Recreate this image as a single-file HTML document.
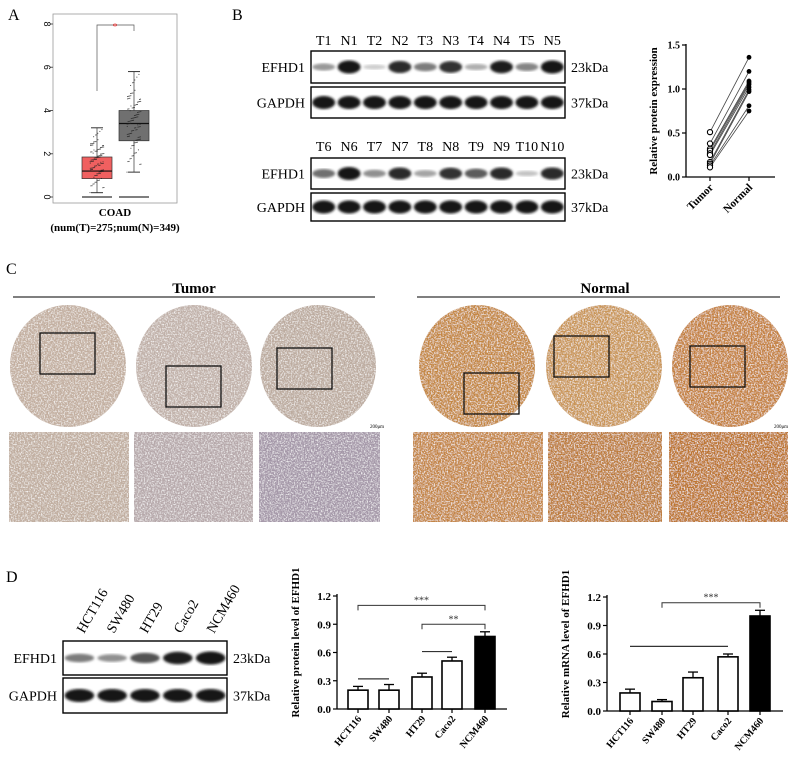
<!DOCTYPE html>
<html><head><meta charset="utf-8"><style>
html,body{margin:0;padding:0;background:#fff;}
svg{display:block;font-family:"Liberation Serif",serif;}
</style></head><body>
<svg id="fig" width="792" height="765" viewBox="0 0 792 765" xmlns="http://www.w3.org/2000/svg">
<defs>
<filter id="tex" x="0" y="0" width="100%" height="100%">
<feTurbulence type="fractalNoise" baseFrequency="0.7" numOctaves="2" seed="3" result="t"/>
<feColorMatrix in="t" type="matrix" values="0 0 0 0 1  0 0 0 0 1  0 0 0 0 1  2.2 0 0 0 -0.95" result="w"/>
<feComposite in="w" in2="SourceGraphic" operator="in" result="wi"/>
<feMerge><feMergeNode in="SourceGraphic"/><feMergeNode in="wi"/></feMerge>
</filter>
<filter id="blur1"><feGaussianBlur stdDeviation="1.2"/></filter>
</defs>
<text x="8" y="20" font-size="16">A</text>
<text x="232" y="20" font-size="16">B</text>
<text x="6" y="274" font-size="16">C</text>
<text x="6" y="582" font-size="16">D</text>
<g id="panelA"></g>
<g id="panelB"></g>
<g id="panelBchart"></g>
<g id="panelC"></g>
<g id="panelD"></g>
<g id="panelD1"></g>
<g id="panelD2"></g>
</svg>
<script>
const boxGroups = ['Tumor','Normal'];
const boxQ1 = [0.85, 2.6];
const boxMed = [1.2, 3.4];
const boxQ3 = [1.85, 4.0];
const boxLow = [0.2, 1.15];
const boxHigh = [3.2, 5.8];
const boxColors = ['#f06060','#707070'];
const aTicks = [0,2,4,6,8];
const pairTumor = [0.51,0.38,0.32,0.30,0.27,0.25,0.17,0.15,0.13,0.11];
const pairNormal = [1.36,1.20,1.09,1.07,1.05,1.02,0.99,0.97,0.81,0.75];
const bTicks = [0,0.5,1.0,1.5];
const cellLines = ['HCT116','SW480','HT29','Caco2','NCM460'];
const protVals = [0.20,0.20,0.34,0.51,0.77];
const protErr = [0.04,0.06,0.04,0.04,0.05];
const mrnaVals = [0.19,0.10,0.35,0.57,1.00];
const mrnaErr = [0.04,0.02,0.06,0.03,0.06];
const dTicks = [0.0,0.3,0.6,0.9,1.2];
const blotLanes1 = ['T1','N1','T2','N2','T3','N3','T4','N4','T5','N5'];
const blotLanes2 = ['T6','N6','T7','N7','T8','N8','T9','N9','T10','N10'];
const efhd1Int1 = [0.35,1,0.1,0.9,0.5,0.85,0.25,0.95,0.45,1];
const efhd1Int2 = [0.55,1,0.4,0.9,0.3,0.85,0.65,0.9,0.15,0.9];
const efhdD = [0.5,0.4,0.7,0.95,1];

const NS='http://www.w3.org/2000/svg';
function mk(parent, tag, attrs, text){
  const e=document.createElementNS(NS,tag);
  for(const k in attrs) e.setAttribute(k,attrs[k]);
  if(text!==undefined) e.textContent=text;
  parent.appendChild(e); return e;
}
const A=document.getElementById('panelA');
const ay=v=>197-(v/8)*173;
let e;
e=mk(A,'rect',{x:53,y:14,width:124,height:189,fill:'none',stroke:'#999','stroke-width':0.8});


aTicks.forEach(t=>{
  mk(A,'line',{x1:50,x2:53,y1:ay(t),y2:ay(t),stroke:'#555'});
  e=mk(A,'text',{x:0,y:0,'font-size':9,'text-anchor':'middle',transform:`translate(44,${ay(t)}) rotate(90)`,'font-family':'Liberation Sans'},t);
  
  
});
const ax=[97,134];
boxGroups.forEach((g,i)=>{
  const cx=ax[i];
  mk(A,'line',{x1:cx-15,x2:cx+15,y1:ay(0),y2:ay(0),stroke:'#333','stroke-width':1.2});
  mk(A,'line',{x1:cx,x2:cx,y1:ay(boxLow[i]),y2:ay(boxHigh[i]),stroke:'#333','stroke-width':0.7});
  mk(A,'line',{x1:cx-6,x2:cx+6,y1:ay(boxLow[i]),y2:ay(boxLow[i]),stroke:'#333'});
  mk(A,'line',{x1:cx-6,x2:cx+6,y1:ay(boxHigh[i]),y2:ay(boxHigh[i]),stroke:'#333'});
  e=mk(A,'rect',{x:cx-15,y:ay(boxQ3[i]),width:30,height:ay(boxQ1[i])-ay(boxQ3[i]),fill:boxColors[i],stroke:'#333','stroke-width':0.7});
  
  
  mk(A,'line',{x1:cx-15,x2:cx+15,y1:ay(boxMed[i]),y2:ay(boxMed[i]),stroke:'#111','stroke-width':1.2});
  const lo=boxLow[i], span=boxHigh[i]-boxLow[i];
  for(let k=0;k<110;k++){
    const f=(k*0.6180339)%1, h=(k*0.7548776)%1;
    const u=(f+((k*0.5698)%1))/2;
    const v=lo+span*u;
    mk(A,'circle',{cx:cx-7+h*14,cy:ay(v),r:0.5,fill:'#222'});
  }
});
mk(A,'path',{d:`M97 ${ay(4.9)} V25 H134 V31`,fill:'none',stroke:'#555','stroke-width':0.7});
mk(A,'text',{x:115,y:30,'font-size':10,fill:'#e33','text-anchor':'middle'},'*');
e=mk(A,'text',{x:115,y:216,'font-size':11,'font-weight':'bold','text-anchor':'middle'},'COAD');


e=mk(A,'text',{x:115,y:231,'font-size':11,'font-weight':'bold','text-anchor':'middle'},'(num(T)=275;num(N)=349)');



const B=document.getElementById('panelB');
function blot(g,x0,y0,w,h,label,ints,gap,kda,name){
  e=mk(g,'rect',{x:x0,y:y0,width:w,height:h,fill:'#fff',stroke:'#000','stroke-width':1.4});
  
  
  const n=ints.length, sp=w/n;
  ints.forEach((v,i)=>{
    const c=Math.round(225-205*v);
    mk(g,'ellipse',{cx:x0+sp*(i+0.5),cy:y0+h/2,rx:sp*0.45,ry:2+4.5*v,fill:`rgb(${c},${c},${c})`,filter:'url(#blur1)'});
  });
  mk(g,'text',{x:x0-6,y:y0+h/2+5,'font-size':gap,'text-anchor':'end'},label);
  mk(g,'text',{x:x0+w+6,y:y0+h/2+5,'font-size':gap},kda);
}
function laneLabels(g,x0,w,y,labels){
  const sp=w/labels.length;
  labels.forEach((l,i)=>{
    e=mk(g,'text',{x:x0+sp*(i+0.5),y:y,'font-size':14,'text-anchor':'middle'},l);
    
    
  });
}
laneLabels(B,311,254,45,blotLanes1);
blot(B,311,51,254,32,'EFHD1',efhd1Int1,14,'23kDa','efhd1-blot-1');
blot(B,311,87,254,31,'GAPDH',new Array(10).fill(1),14,'37kDa','gapdh-blot-1');
laneLabels(B,311,254,151,blotLanes2);
blot(B,311,158,254,31,'EFHD1',efhd1Int2,14,'23kDa','efhd1-blot-2');
blot(B,311,193,254,28,'GAPDH',new Array(10).fill(1),14,'37kDa','gapdh-blot-2');

const BC=document.getElementById('panelBchart');
const by=v=>177-(v/1.5)*132;
mk(BC,'line',{x1:686,x2:686,y1:44,y2:177,stroke:'#000','stroke-width':1.3});
mk(BC,'line',{x1:686,x2:775,y1:177,y2:177,stroke:'#000','stroke-width':1.3});
bTicks.forEach(t=>{
  mk(BC,'line',{x1:682,x2:686,y1:by(t),y2:by(t),stroke:'#000','stroke-width':1.2});
  e=mk(BC,'text',{x:680,y:by(t)+3.5,'font-size':10,'font-weight':'bold','text-anchor':'end'},t.toFixed(1));
  
  
});
e=mk(BC,'text',{x:0,y:0,'font-size':11,'font-weight':'bold','text-anchor':'middle',transform:'translate(657,111) rotate(-90)'},'Relative protein expression');


const bx=[710,749];
['Tumor','Normal'].forEach((l,i)=>{
  mk(BC,'line',{x1:bx[i],x2:bx[i],y1:177,y2:181,stroke:'#000','stroke-width':1.2});
  e=mk(BC,'text',{x:0,y:0,'font-size':11,'font-weight':'bold','text-anchor':'end',transform:`translate(${bx[i]+4},${188}) rotate(-45)`},l);
  
  
});
pairTumor.forEach((v,i)=>{
  mk(BC,'line',{x1:bx[0],y1:by(v),x2:bx[1],y2:by(pairNormal[i]),stroke:'#444','stroke-width':0.8});
});
pairTumor.forEach(v=>{
  e=mk(BC,'circle',{cx:bx[0],cy:by(v),r:2.6,fill:'#fff',stroke:'#000','stroke-width':1.1});
  
  
});
pairNormal.forEach(v=>{
  e=mk(BC,'circle',{cx:bx[1],cy:by(v),r:2.4,fill:'#000'});
  
  
});

const C=document.getElementById('panelC');
mk(C,'text',{x:194,y:293,'font-size':15,'font-weight':'bold','text-anchor':'middle'},'Tumor');
mk(C,'line',{x1:13,x2:375,y1:297,y2:297,stroke:'#333','stroke-width':1.2});
mk(C,'text',{x:605,y:293,'font-size':15,'font-weight':'bold','text-anchor':'middle'},'Normal');
mk(C,'line',{x1:417,x2:780,y1:297,y2:297,stroke:'#333','stroke-width':1.2});
const circCols=['#c2ae9f','#c0b0a8','#bcab9f','#c48743','#c99556','#c4803e'];
const circX=[68,194,318,477,604,730];
const circBox=[[40,333],[166,366],[277,348],[464,373],[554,336],[690,346]];
const rects=[[9,129],[134,253],[259,380],[413,543],[548,662],[669,788]];
const rectCols=['#c0ad9f','#b6a8aa','#a497a8','#c48544','#bd7b3a','#bd752f'];
circX.forEach((cx,i)=>{
  e=mk(C,'ellipse',{cx:cx,cy:366,rx:58,ry:61,fill:circCols[i],filter:'url(#tex)'});
  
  
  mk(C,'rect',{x:circBox[i][0],y:circBox[i][1],width:55,height:41,fill:'none',stroke:'#111','stroke-width':1.3});
  const r=rects[i];
  e=mk(C,'rect',{x:r[0],y:432,width:r[1]-r[0],height:90,fill:rectCols[i],filter:'url(#tex)'});
  
  
});
mk(C,'text',{x:370,y:428,'font-size':5},'200μm');
mk(C,'text',{x:774,y:428,'font-size':5},'200μm');

const D=document.getElementById('panelD');
const dlx=[80,110,143,177,210];
cellLines.forEach((l,i)=>{
  e=mk(D,'text',{x:0,y:0,'font-size':14,transform:`translate(${dlx[i]+4},${634}) rotate(-60)`},l);
  
  
});
blot(D,63,641,164,34,'EFHD1',efhdD,14,'23kDa','efhd1-blot-d');
blot(D,63,678,164,35,'GAPDH',[1,1,1,1,1],14,'37kDa','gapdh-blot-d');

function barChart(g,vals,errs,x0,x1,y0,yTop,centers,title,brackets,lines){
  const y=v=>y0-(v/1.2)*(y0-yTop);
  mk(g,'line',{x1:x0,x2:x0,y1:yTop-2,y2:y0,stroke:'#000','stroke-width':1.3});
  mk(g,'line',{x1:x0,x2:x1,y1:y0,y2:y0,stroke:'#000','stroke-width':1.3});
  dTicks.forEach(t=>{
    mk(g,'line',{x1:x0-4,x2:x0,y1:y(t),y2:y(t),stroke:'#000','stroke-width':1.2});
    e=mk(g,'text',{x:x0-6,y:y(t)+4,'font-size':11,'font-weight':'bold','text-anchor':'end'},t.toFixed(1));
    
    
  });
  e=mk(g,'text',{x:0,y:0,'font-size':11,'font-weight':'bold','text-anchor':'middle',transform:`translate(${x0-38},${(y0+yTop)/2-10}) rotate(-90)`},title);
  
  
  vals.forEach((v,i)=>{
    const cx=centers[i];
    mk(g,'line',{x1:cx,x2:cx,y1:y(v),y2:y(v+errs[i]),stroke:'#000','stroke-width':1.3});
    mk(g,'line',{x1:cx-5,x2:cx+5,y1:y(v+errs[i]),y2:y(v+errs[i]),stroke:'#000','stroke-width':1.3});
    e=mk(g,'rect',{x:cx-10,y:y(v),width:20,height:y0-y(v),fill:i==4?'#000':'#fff',stroke:'#000','stroke-width':1.6});
    
    
    mk(g,'line',{x1:cx,x2:cx,y1:y0,y2:y0+4,stroke:'#000','stroke-width':1.2});
    e=mk(g,'text',{x:0,y:0,'font-size':10,'font-weight':'bold','text-anchor':'end',transform:`translate(${cx+4},${y0+10}) rotate(-50)`},cellLines[i]);
    
    
  });
  brackets.forEach(b=>{
    mk(g,'path',{d:`M${centers[b[0]]} ${y(b[2])+5} V${y(b[2])} H${centers[b[1]]} V${y(b[2])+5}`,fill:'none',stroke:'#333','stroke-width':1});
    mk(g,'text',{x:(centers[b[0]]+centers[b[1]])/2,y:y(b[2])-2,'font-size':10,'text-anchor':'middle',fill:'#333'},b[3]);
  });
  lines.forEach(l=>{
    mk(g,'line',{x1:centers[l[0]],x2:centers[l[1]],y1:y(l[2]),y2:y(l[2]),stroke:'#333','stroke-width':1.2});
  });
}
barChart(document.getElementById('panelD1'),protVals,protErr,337,507,709,596,[358,389,422,452,485],
  'Relative protein level of EFHD1',[[0,4,1.10,'***'],[2,4,0.90,'**']],[[0,1,0.32],[2,3,0.61]]);
barChart(document.getElementById('panelD2'),mrnaVals,mrnaErr,607,783,711,597,[630,662,693,728,760],
  'Relative mRNA level of EFHD1',[[1,4,1.14,'***']],[[0,3,0.68]]);
</script>
</body></html>
